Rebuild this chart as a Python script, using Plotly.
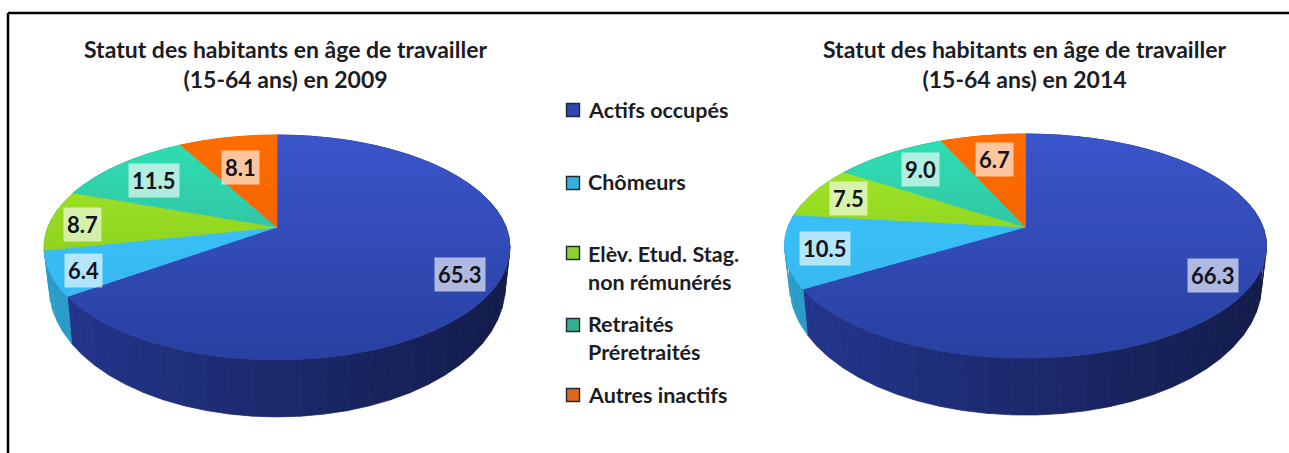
import math
import plotly.graph_objects as go

categories = ["Actifs occupés", "Chômeurs", "Elèv. Etud. Stag.<br>non rémunérés", "Retraités<br>Préretraités", "Autres inactifs"]
values_2009 = [65.3, 6.4, 8.7, 11.5, 8.1]
values_2014 = [66.3, 10.5, 7.5, 9.0, 6.7]
title_2009 = "Statut des habitants en âge de travailler<br>(15-64 ans) en 2009"
title_2014 = "Statut des habitants en âge de travailler<br>(15-64 ans) en 2014"

W, H = 1289, 453
FONT = "Lato"
INK = "#1c1c24"
top_hi = ["#3b55cb", "#3cc6fb", "#a6ea2c", "#2fe0b4", "#ff6c00"]
top_lo = ["#2840a0", "#34b4ec", "#78bc10", "#36a090", "#e65c00"]
side_l = ["#24368f", "#2a9cc8", "#2a9cc8", "#2a8a78", "#c85000"]
side_r = ["#131c4a", "#2a9cc8", "#2a9cc8", "#2a8a78", "#c85000"]
legend_fill = ["#2f45b0", "#33b0dc", "#8fd12c", "#35b08e", "#e0661a"]
legend_y = [110, 183, 253, 325, 395]
legend_text_y = [110, 182, 268, 338, 395]
labels_xy_2009 = [(460, 274), (83, 270), (82, 224), (154, 180), (240, 167)]
labels_xy_2014 = [(1213, 275), (825, 248), (848, 198), (920, 169), (994, 159)]


def mix(a, b, t):
    t = max(0.0, min(1.0, t))
    ca = [int(a[i:i + 2], 16) for i in (1, 3, 5)]
    cb = [int(b[i:i + 2], 16) for i in (1, 3, 5)]
    return "#%02x%02x%02x" % tuple(round(x + (y - x) * t) for x, y in zip(ca, cb))


def clip(poly, y_min, y_max):
    def cut(pts, keep, y0):
        out = []
        for i, p in enumerate(pts):
            q = pts[(i + 1) % len(pts)]
            if keep(p):
                out.append(p)
            if keep(p) != keep(q):
                t = (y0 - p[1]) / (q[1] - p[1])
                out.append((p[0] + (q[0] - p[0]) * t, y0))
        return out
    r = cut(poly, lambda p: p[1] >= y_min, y_min)
    return cut(r, lambda p: p[1] <= y_max, y_max) if r else r


def add_poly_groups(fig, groups):
    for color, polys in groups.items():
        xs, ys = [], []
        for poly in polys:
            xs += [p[0] for p in poly] + [poly[0][0], None]
            ys += [p[1] for p in poly] + [poly[0][1], None]
        fig.add_trace(go.Scatter(x=xs, y=ys, mode="lines", fill="toself", fillcolor=color,
                                 line=dict(color=color, width=0.8), hoverinfo="skip", showlegend=False))


def add_pie(fig, values, cx, cy, sx, sy, k, depth):
    def project(theta):
        u, v = math.sin(theta), math.cos(theta)
        w = 1 + k * v
        return cx + sx * u / w, cy - sy * v / w

    def lower(theta):
        x, y = project(theta)
        return cx + (x - cx) * 0.98, y + depth * (0.59 - 0.41 * math.cos(theta))

    total = sum(values)
    edges = [0.0]
    for val in values:
        edges.append(edges[-1] + val / total * 2 * math.pi)

    half_w = sx / math.sqrt(1 - k * k)
    for i, (a, b) in enumerate(zip(edges, edges[1:])):
        n = max(4, int((b - a) / math.radians(5)))
        rim = {}
        for j in range(n):
            t0, t1 = a + (b - a) * j / n, a + (b - a) * (j + 1) / n
            sub = [t0 + (t1 - t0) * m / 6 for m in range(7)]
            upper = [project(t) for t in sub]
            bottom = [lower(t) for t in reversed(sub)]
            tx = (upper[3][0] - cx + half_w) / (2 * half_w)
            rim.setdefault(mix(side_l[i], side_r[i], tx), []).append(upper + bottom)
        add_poly_groups(fig, rim)

    top_y = cy - sy / (1 + k)
    bottom_y = cy + sy / (1 - k)
    band = 7.0
    for i, (a, b) in enumerate(zip(edges, edges[1:])):
        n = max(4, int((b - a) / math.radians(1)))
        poly = [(cx, cy)] + [project(a + (b - a) * j / n) for j in range(n + 1)]
        groups = {}
        y = top_y - 1
        while y < bottom_y + 1:
            part = clip(poly, y, y + band)
            if part:
                groups.setdefault(mix(top_hi[i], top_lo[i], (y - top_y) / (bottom_y - top_y)), []).append(part)
            y += band
        add_poly_groups(fig, groups)


fig = go.Figure()
add_pie(fig, values_2009, 277, 227, 229, 108.7, 0.182, 57)
add_pie(fig, values_2014, 1025.5, 227, 237.5, 108.8, 0.170, 57)

fig.add_trace(go.Scatter(x=[573] * 5, y=legend_y, mode="markers", hoverinfo="skip", showlegend=False,
                         marker=dict(symbol="square", size=13, color=legend_fill,
                                     line=dict(color="#222a3a", width=1.4))))

annotations = []
for text, x in ((title_2009, 285.5), (title_2014, 1024.5)):
    annotations.append(dict(x=x, y=63.5, text="<b>%s</b>" % text, showarrow=False, xref="x", yref="y",
                            yanchor="middle", font=dict(family=FONT, size=23, color=INK), align="center"))
for name, y in zip(categories, legend_text_y):
    annotations.append(dict(x=586, y=y, text="<b>%s</b>" % name, showarrow=False, xref="x", yref="y", xanchor="left",
                            yanchor="middle", align="left", font=dict(family=FONT, size=21.5, color=INK)))
for vals, xys in ((values_2009, labels_xy_2009), (values_2014, labels_xy_2014)):
    for val, (x, y) in zip(vals, xys):
        annotations.append(dict(x=x, y=y, text="<b>%.1f</b>" % val, showarrow=False, xref="x", yref="y",
                                font=dict(family=FONT, size=22, color="#11131c"),
                                bgcolor="rgba(255,255,255,0.62)", borderpad=3))

fig.update_layout(
    width=W, height=H, margin=dict(l=0, r=0, t=0, b=0), autosize=False,
    paper_bgcolor="white", plot_bgcolor="white", showlegend=False,
    xaxis=dict(range=[0, W], visible=False, fixedrange=True),
    yaxis=dict(range=[H, 0], visible=False, fixedrange=True),
    annotations=annotations,
    shapes=[
        dict(type="line", x0=8, y0=13, x1=W, y1=13, line=dict(color="black", width=2.5), xref="x", yref="y"),
        dict(type="line", x0=8, y0=13, x1=8, y1=H, line=dict(color="black", width=2.5), xref="x", yref="y"),
    ],
)
fig.write_html("out.html", config={"displayModeBar": False},
               post_script="document.body.style.margin='0';document.documentElement.style.overflow='hidden';")
